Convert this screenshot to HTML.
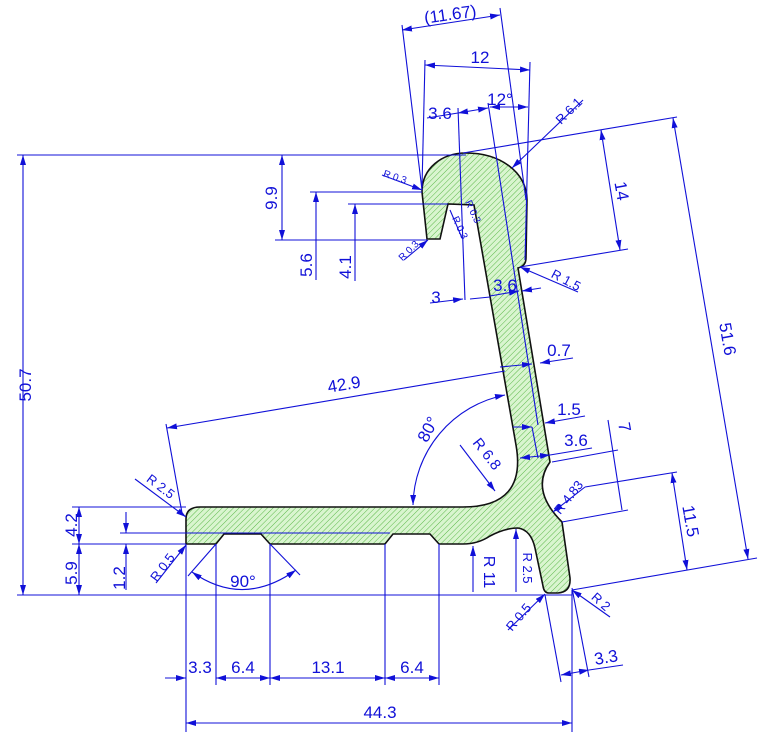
<!DOCTYPE html>
<html><head><meta charset="utf-8"><style>
html,body{margin:0;padding:0;background:#fff;}
svg{display:block;}
text{font-family:"Liberation Sans Narrow","Liberation Sans",sans-serif;fill:#1010d8;font-size:17px;}
.s{font-size:10px;}
</style></head><body>
<svg width="768" height="738" viewBox="0 0 768 738" xmlns="http://www.w3.org/2000/svg">
<defs>
<pattern id="h" patternUnits="userSpaceOnUse" width="4" height="4" patternTransform="rotate(45)">
<rect width="4" height="4" fill="#d9f5cf"/><line x1="0" y1="0" x2="0" y2="4" stroke="#5cb84a" stroke-width="1"/>
</pattern>
<marker id="a" viewBox="0 0 10 6" refX="10" refY="3" markerWidth="10" markerHeight="6" orient="auto-start-reverse" markerUnits="userSpaceOnUse"><path d="M0,0 L10,3 L0,6 Z" fill="#1010d8"/></marker>
</defs>
<path d="M422,192 C422,168 442,153 466,153 C500,153 527,172 527,200 L526,258 Q526,266 518,268 L550,462 Q530,490 562,522 L570,578 Q571,592 558,593 L549,593 Q544,593 543,586 L535,548 Q531,530 518,528 Q505,528 490,536 Q478,544 463,544 L439,544 L430,534 L393,534 L385,544 L270,544 L261,534 L224,534 L216,544 L186,544 L186,519 Q186,507 200,507 L463,507 Q527,507 516,445 L474,205 L448,204 L440,239 L427,239 L422,192 Z" fill="url(#h)" stroke="#111" stroke-width="1.6"/>
<g stroke="#1010d8" stroke-width="1.1" fill="none">
<line x1="17" y1="155" x2="466" y2="155"/>
<line x1="17" y1="595" x2="572" y2="595"/>
<line x1="23" y1="155" x2="23" y2="595" marker-start="url(#a)" marker-end="url(#a)"/>
<line x1="275" y1="240" x2="427" y2="240"/>
<line x1="282" y1="155" x2="282" y2="240" marker-start="url(#a)" marker-end="url(#a)"/>
<line x1="310" y1="192" x2="422" y2="192"/>
<line x1="316" y1="192" x2="316" y2="280" marker-start="url(#a)"/>
<line x1="348" y1="204" x2="448" y2="204"/>
<line x1="355" y1="204" x2="355" y2="281" marker-start="url(#a)"/>
<line x1="72" y1="507" x2="186" y2="507"/>
<line x1="72" y1="544" x2="186" y2="544"/>
<line x1="79" y1="507" x2="79" y2="544" marker-start="url(#a)" marker-end="url(#a)"/>
<line x1="79" y1="544" x2="79" y2="595" marker-start="url(#a)" marker-end="url(#a)"/>
<line x1="120" y1="533" x2="390" y2="533"/>
<line x1="126" y1="512" x2="126" y2="533" marker-end="url(#a)"/>
<line x1="126" y1="590" x2="126" y2="544" marker-end="url(#a)"/>
<line x1="135" y1="479" x2="186" y2="517" marker-end="url(#a)"/>
<line x1="156" y1="583" x2="186" y2="545" marker-end="url(#a)"/>
<line x1="216" y1="544" x2="188" y2="576"/>
<line x1="270" y1="544" x2="300" y2="575"/>
<path d="M192,572 Q243,608 296,570" marker-start="url(#a)" marker-end="url(#a)"/>
<line x1="166" y1="424" x2="182" y2="513"/>
<line x1="167" y1="428" x2="505" y2="371" marker-start="url(#a)"/>
<path d="M413,505 A114,114 0 0 1 505,395" marker-start="url(#a)" marker-end="url(#a)"/>
<line x1="460" y1="445" x2="495" y2="491" marker-end="url(#a)"/>
<line x1="473" y1="592" x2="473" y2="546" marker-end="url(#a)"/>
<line x1="516" y1="592" x2="516" y2="529" marker-end="url(#a)"/>
<line x1="186" y1="544" x2="186" y2="732"/>
<line x1="216" y1="544" x2="216" y2="685"/>
<line x1="270" y1="544" x2="270" y2="685"/>
<line x1="385" y1="544" x2="385" y2="685"/>
<line x1="439" y1="544" x2="439" y2="685"/>
<line x1="572" y1="590" x2="572" y2="732"/>
<line x1="165" y1="678" x2="186" y2="678" marker-end="url(#a)"/>
<line x1="216" y1="678" x2="270" y2="678" marker-start="url(#a)" marker-end="url(#a)"/>
<line x1="270" y1="678" x2="385" y2="678" marker-start="url(#a)" marker-end="url(#a)"/>
<line x1="385" y1="678" x2="439" y2="678" marker-start="url(#a)" marker-end="url(#a)"/>
<line x1="186" y1="723" x2="572" y2="723" marker-start="url(#a)" marker-end="url(#a)"/>
<line x1="545" y1="595" x2="561" y2="682"/>
<line x1="572" y1="588" x2="589" y2="677"/>
<line x1="561" y1="675" x2="589" y2="670" marker-start="url(#a)" marker-end="url(#a)"/>
<line x1="589" y1="670" x2="623" y2="665"/>
<line x1="508" y1="630" x2="545" y2="594" marker-end="url(#a)"/>
<line x1="610" y1="617" x2="572" y2="590" marker-end="url(#a)"/>
<line x1="463" y1="153" x2="677" y2="117"/>
<line x1="673" y1="118" x2="748" y2="559" marker-start="url(#a)" marker-end="url(#a)"/>
<line x1="572" y1="590" x2="757" y2="558"/>
<line x1="601" y1="130" x2="620" y2="250" marker-start="url(#a)" marker-end="url(#a)"/>
<line x1="520" y1="267" x2="628" y2="249"/>
<line x1="578" y1="292" x2="520" y2="267" marker-end="url(#a)"/>
<line x1="490" y1="296" x2="519" y2="291" marker-end="url(#a)"/>
<line x1="541" y1="288" x2="522" y2="291" marker-end="url(#a)"/>
<line x1="573" y1="358" x2="540" y2="363" marker-end="url(#a)"/>
<line x1="500" y1="367" x2="532" y2="364" marker-end="url(#a)"/>
<line x1="585" y1="416" x2="545" y2="423" marker-end="url(#a)"/>
<line x1="592" y1="448" x2="550" y2="455"/>
<line x1="513" y1="427" x2="532" y2="427" marker-end="url(#a)"/>
<line x1="520" y1="458" x2="550" y2="455" marker-start="url(#a)" marker-end="url(#a)"/>
<line x1="532" y1="427" x2="538" y2="458"/>
<line x1="552" y1="462" x2="618" y2="450"/>
<line x1="562" y1="522" x2="628" y2="510"/>
<line x1="608" y1="420" x2="622" y2="510"/>
<line x1="585" y1="487" x2="677" y2="472"/>
<line x1="585" y1="487" x2="553" y2="512" marker-end="url(#a)"/>
<line x1="672" y1="473" x2="687" y2="570" marker-start="url(#a)" marker-end="url(#a)"/>
<line x1="402" y1="25" x2="422" y2="190"/>
<line x1="500" y1="8" x2="526" y2="200"/>
<line x1="402" y1="30" x2="500" y2="15" marker-start="url(#a)" marker-end="url(#a)"/>
<line x1="425" y1="60" x2="422" y2="187"/>
<line x1="530" y1="62" x2="525" y2="260"/>
<line x1="425" y1="65" x2="530" y2="70" marker-start="url(#a)" marker-end="url(#a)"/>
<line x1="427" y1="118" x2="458" y2="113"/>
<line x1="458" y1="113" x2="488" y2="108" marker-start="url(#a)" marker-end="url(#a)"/>
<line x1="490" y1="107" x2="528" y2="107" marker-start="url(#a)" marker-end="url(#a)"/>
<line x1="458" y1="108" x2="465" y2="300"/>
<line x1="488" y1="103" x2="538" y2="425"/>
<line x1="583" y1="100" x2="512" y2="168" marker-end="url(#a)"/>
<line x1="382" y1="175" x2="422" y2="190" marker-end="url(#a)"/>
<line x1="404" y1="260" x2="428" y2="240" marker-end="url(#a)"/>
<line x1="462" y1="238" x2="450" y2="210"/>
<line x1="430" y1="303" x2="463" y2="299" marker-end="url(#a)"/>
<line x1="490" y1="297" x2="470" y2="299"/>
</g>
<text x="31" y="385" transform="rotate(-90 31 385)" text-anchor="middle">50.7</text>
<text x="277" y="198" transform="rotate(-90 277 198)" text-anchor="middle">9.9</text>
<text x="312" y="265" transform="rotate(-90 312 265)" text-anchor="middle">5.6</text>
<text x="351" y="267" transform="rotate(-90 351 267)" text-anchor="middle">4.1</text>
<text x="77" y="525" transform="rotate(-90 77 525)" text-anchor="middle">4.2</text>
<text x="77" y="573" transform="rotate(-90 77 573)" text-anchor="middle">5.9</text>
<text x="125" y="578" transform="rotate(-90 125 578)" text-anchor="middle">1.2</text>
<text x="158" y="490" style="font-size:13px" transform="rotate(37 158 490)" text-anchor="middle">R 2.5</text>
<text x="166" y="570" style="font-size:13px" transform="rotate(-53 166 570)" text-anchor="middle">R 0.5</text>
<text x="243" y="587" text-anchor="middle">90°</text>
<text x="345" y="390" transform="rotate(-9.6 345 390)" text-anchor="middle">42.9</text>
<text x="433" y="432" transform="rotate(-62 433 432)" text-anchor="middle">80°</text>
<text x="483" y="457" style="font-size:15px" transform="rotate(52 483 457)" text-anchor="middle">R 6.8</text>
<text x="484" y="572" style="font-size:16px" transform="rotate(90 484 572)" text-anchor="middle">R 11</text>
<text x="523" y="568" style="font-size:13px" transform="rotate(90 523 568)" text-anchor="middle">R 2.5</text>
<text x="200" y="673" text-anchor="middle">3.3</text>
<text x="243" y="673" text-anchor="middle">6.4</text>
<text x="328" y="673" text-anchor="middle">13.1</text>
<text x="412" y="673" text-anchor="middle">6.4</text>
<text x="380" y="718" text-anchor="middle">44.3</text>
<text x="607" y="663" transform="rotate(-10 607 663)" text-anchor="middle">3.3</text>
<text x="522" y="620" style="font-size:13px" transform="rotate(-50 522 620)" text-anchor="middle">R 0.5</text>
<text x="598" y="605" style="font-size:13px" transform="rotate(42 598 605)" text-anchor="middle">R 2</text>
<text x="722" y="340" transform="rotate(80 722 340)" text-anchor="middle">51.6</text>
<text x="616" y="192" transform="rotate(80 616 192)" text-anchor="middle">14</text>
<text x="564" y="284" style="font-size:13px" transform="rotate(28 564 284)" text-anchor="middle">R 1.5</text>
<text x="505" y="291" text-anchor="middle">3.6</text>
<text x="559" y="356" text-anchor="middle">0.7</text>
<text x="569" y="415" text-anchor="middle">1.5</text>
<text x="576" y="446" text-anchor="middle">3.6</text>
<text x="619" y="428" transform="rotate(80 619 428)" text-anchor="middle">7</text>
<text x="572" y="500" style="font-size:13px" transform="rotate(-52 572 500)" text-anchor="middle">R 4.83</text>
<text x="685" y="522" transform="rotate(80 685 522)" text-anchor="middle">11.5</text>
<text x="451" y="20" transform="rotate(-8 451 20)" text-anchor="middle">(11.67)</text>
<text x="480" y="63" text-anchor="middle">12</text>
<text x="440" y="119" text-anchor="middle">3.6</text>
<text x="500" y="105" text-anchor="middle">12°</text>
<text x="572" y="114" style="font-size:13px" transform="rotate(-45 572 114)" text-anchor="middle">R 6.1</text>
<text x="394" y="180" class="s" transform="rotate(18 394 180)" text-anchor="middle">R 0.3</text>
<text x="411" y="253" class="s" transform="rotate(-45 411 253)" text-anchor="middle">R 0.3</text>
<text x="457" y="229" class="s" transform="rotate(65 457 229)" text-anchor="middle">R 0.3</text>
<text x="470" y="213" class="s" transform="rotate(65 470 213)" text-anchor="middle">R 0.3</text>
<text x="436" y="303" text-anchor="middle">3</text>
</svg>
</body></html>
